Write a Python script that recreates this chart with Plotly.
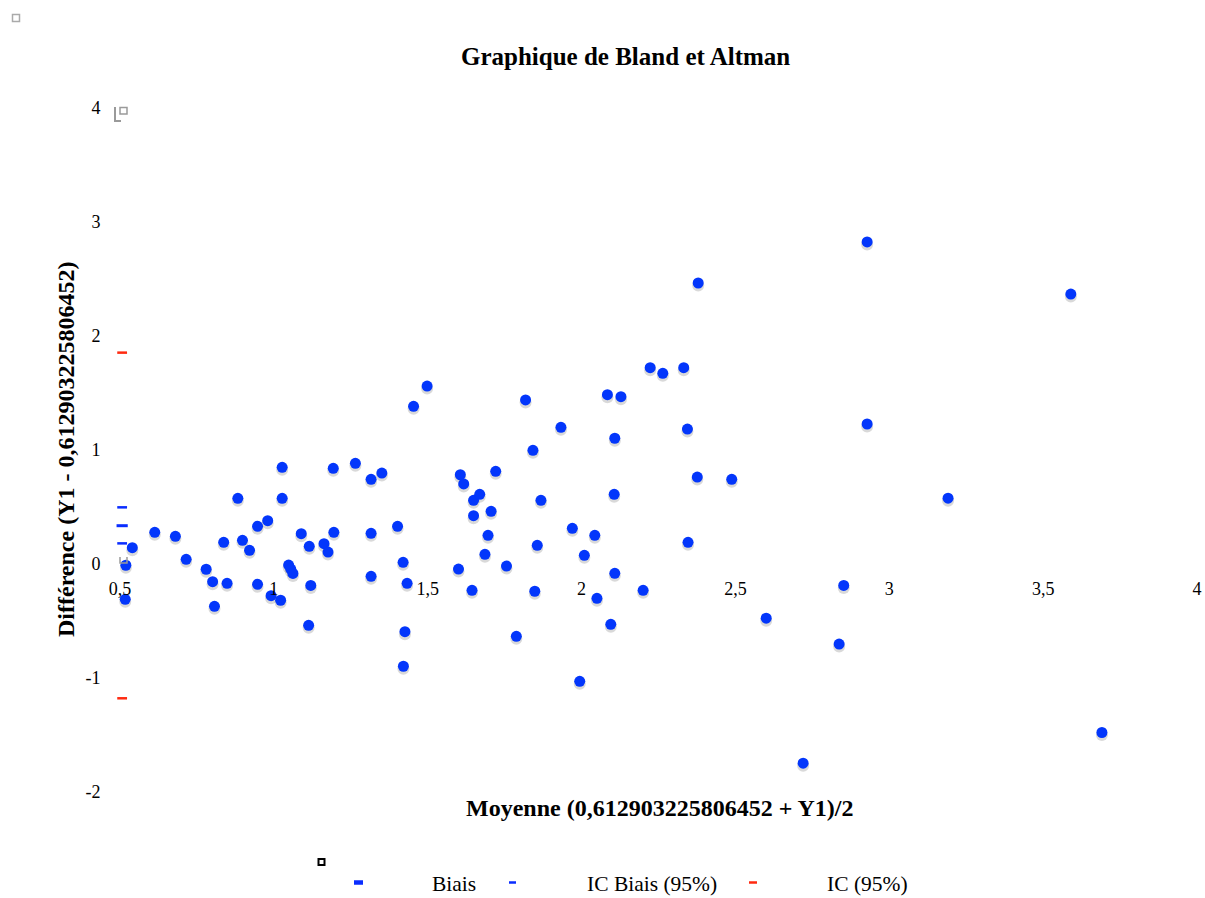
import plotly.graph_objects as go

# ---------------- data ----------------
moyenne = [0.498, 0.540, 0.519, 0.517, 0.613, 0.680, 0.715, 0.780, 0.801, 0.807,
           0.837, 0.848, 0.883, 0.898, 0.921, 0.947, 0.947, 0.980, 0.991, 1.022,
           1.027, 1.027, 1.048, 1.055, 1.062, 1.089, 1.115, 1.113, 1.120, 1.163,
           1.176, 1.195, 1.193, 1.265, 1.316, 1.316, 1.316, 1.351, 1.402, 1.420,
           1.433, 1.426, 1.421, 1.454, 1.498, 1.600, 1.606, 1.617, 1.649, 1.649,
           1.644, 1.669, 1.686, 1.696, 1.706, 1.721, 1.756, 1.788, 1.818, 1.842,
           1.848, 1.856, 1.868, 1.933, 1.970, 1.994, 2.009, 2.043, 2.050, 2.084,
           2.095, 2.106, 2.108, 2.108, 2.128, 2.200, 2.223, 2.264, 2.332, 2.344,
           2.346, 2.379, 2.376, 2.488, 2.600, 2.720, 2.837, 2.852, 2.928, 2.928,
           3.191, 3.590, 3.691]
difference = [0.333, 0.143, -0.011, -0.310, 0.278, 0.243, 0.041, -0.046, -0.155, -0.371,
              0.190, -0.169, 0.576, 0.208, 0.120, 0.331, -0.178, 0.380, -0.278, -0.318,
              0.848, 0.576, -0.009, -0.044, -0.083, 0.266, 0.155, -0.538, -0.188, 0.178,
              0.105, 0.278, 0.839, 0.883, 0.743, 0.269, -0.108, 0.798, 0.331, 0.015,
              -0.169, -0.594, -0.897, 1.383, 1.561, -0.044, 0.783, 0.702, 0.559, 0.424,
              -0.231, 0.611, 0.085, 0.252, 0.462, 0.813, -0.018, -0.634, 1.439, 0.997,
              -0.239, 0.164, 0.559, 1.199, 0.313, -1.029, 0.076, 0.252, -0.301, 1.485,
              -0.529, 0.611, 1.103, -0.082, 1.468, -0.231, 1.722, 1.673, 1.722, 1.184,
              0.190, 2.465, 0.763, 0.743, -0.475, -1.747, -0.702, -0.188, 2.825, 1.228,
              0.577, 2.368, -1.478]

biais = [0.336]
ic_biais = [0.181, 0.497]
ic_95 = [-1.178, 1.854]
x_lignes = 0.507

x_ticks = [0.5, 1, 1.5, 2, 2.5, 3, 3.5, 4]
x_tick_labels = ["0,5", "1", "1,5", "2", "2,5", "3", "3,5", "4"]
y_ticks = [-2, -1, 0, 1, 2, 3, 4]
y_tick_labels = ["-2", "-1", "0", "1", "2", "3", "4"]

legende = ["Biais", "IC Biais (95%)", "IC (95%)"]

# ---------------- styles ----------------
BLEU = "#0336fb"
BLEU_TRAIT = "#0a2dff"
ROUGE = "#ff2a10"
GRIS = "#9a9a9a"
FONT = "Liberation Serif"

W, H = 1205, 898
L, R, T, B = 120, 8, 108, 106
Y_RANGE = [-2, 4]
SHADOW_SHIFT = 0.022  # visual drop of the soft shadow under each point


def fx(p):
    return (p - L) / (W - L - R)


def fy(p):
    return (H - B - p) / (H - T - B)


fig = go.Figure()

# soft shadow below the points: same data on the (hidden, slightly shifted) base y axis
fig.add_trace(go.Scatter(
    x=moyenne, y=difference, mode="markers", cliponaxis=False, showlegend=False,
    yaxis="y", hoverinfo="skip",
    marker=dict(size=12, color="rgba(0,0,0,0.15)", line=dict(width=0)),
))
# main points and the short bias / CI marks on the visible overlay y axis
fig.add_trace(go.Scatter(
    x=moyenne, y=difference, mode="markers", cliponaxis=False, showlegend=False,
    yaxis="y2",
    marker=dict(size=11, color=BLEU, line=dict(width=0)),
))
fig.add_trace(go.Scatter(
    x=[x_lignes] * len(biais), y=biais, mode="markers", cliponaxis=False, showlegend=False,
    yaxis="y2",
    marker=dict(symbol="line-ew", size=8, line=dict(width=3, color=BLEU_TRAIT)),
))
fig.add_trace(go.Scatter(
    x=[x_lignes] * len(ic_biais), y=ic_biais, mode="markers", cliponaxis=False, showlegend=False,
    yaxis="y2",
    marker=dict(symbol="line-ew", size=7, line=dict(width=2.5, color=BLEU_TRAIT)),
))
fig.add_trace(go.Scatter(
    x=[x_lignes] * len(ic_95), y=ic_95, mode="markers", cliponaxis=False, showlegend=False,
    yaxis="y2",
    marker=dict(symbol="line-ew", size=7, line=dict(width=2.5, color=ROUGE)),
))

shapes = []
# small grey artefacts near the y axis
shapes.append(dict(type="path", xref="paper", yref="paper",
                   path=f"M{fx(115)},{fy(107)} L{fx(115)},{fy(121)} L{fx(121)},{fy(121)}",
                   line=dict(color=GRIS, width=2)))
shapes.append(dict(type="rect", xref="paper", yref="paper",
                   x0=fx(120), x1=fx(127), y0=fy(107.5), y1=fy(114),
                   line=dict(color=GRIS, width=1.5), fillcolor="white"))
shapes.append(dict(type="path", xref="paper", yref="paper",
                   path=f"M{fx(120)},{fy(557)} L{fx(120)},{fy(563)} L{fx(127)},{fy(563)} L{fx(127)},{fy(557)}",
                   line=dict(color=GRIS, width=1.5)))
# grey square top-left
shapes.append(dict(type="rect", xref="paper", yref="paper",
                   x0=fx(12.5), x1=fx(19.5), y0=fy(14.5), y1=fy(21.5),
                   line=dict(color="#aaaaaa", width=1.5)))
# black square above legend
shapes.append(dict(type="rect", xref="paper", yref="paper",
                   x0=fx(318.5), x1=fx(324.5), y0=fy(859), y1=fy(865),
                   line=dict(color="black", width=2)))
# legend symbols
shapes.append(dict(type="line", xref="paper", yref="paper",
                   x0=fx(354), x1=fx(363), y0=fy(882.5), y1=fy(882.5),
                   line=dict(color=BLEU_TRAIT, width=4.5)))
shapes.append(dict(type="line", xref="paper", yref="paper",
                   x0=fx(509), x1=fx(516), y0=fy(882.5), y1=fy(882.5),
                   line=dict(color=BLEU_TRAIT, width=2.5)))
shapes.append(dict(type="line", xref="paper", yref="paper",
                   x0=fx(749), x1=fx(757), y0=fy(882.5), y1=fy(882.5),
                   line=dict(color=ROUGE, width=2.5)))

annotations = [
    dict(text="<b>Graphique de Bland et Altman</b>", xref="paper", yref="paper",
         x=fx(625), y=fy(56), xanchor="center", yanchor="middle", showarrow=False,
         font=dict(family=FONT, size=25, color="black")),
    dict(text="<b>Moyenne (0,612903225806452 + Y1)/2</b>", xref="paper", yref="paper",
         x=fx(659), y=fy(808), xanchor="center", yanchor="middle", showarrow=False,
         font=dict(family=FONT, size=24, color="black")),
    dict(text="<b>Différence (Y1 - 0,612903225806452)</b>", xref="paper", yref="paper",
         x=fx(66), y=fy(450), xanchor="center", yanchor="middle", showarrow=False,
         textangle=-90, font=dict(family=FONT, size=24, color="black")),
]
for txt, left in zip(legende, [430, 585, 825]):
    annotations.append(dict(text=txt, xref="paper", yref="paper", x=fx(left), y=fy(884),
                            xanchor="left", yanchor="middle", showarrow=False,
                            font=dict(family=FONT, size=21.5, color="black")))

fig.update_layout(
    width=W, height=H,
    margin=dict(l=L, r=R, t=T, b=B, autoexpand=False),
    paper_bgcolor="white", plot_bgcolor="white",
    showlegend=False,
    font=dict(family=FONT, color="black"),
    shapes=shapes, annotations=annotations,
    xaxis=dict(range=[0.5, 4], anchor="free", position=(H - B - 564) / (H - T - B),
               tickvals=x_ticks, ticktext=x_tick_labels, ticks="outside", ticklen=8,
               tickcolor="rgba(0,0,0,0)", showgrid=False, zeroline=False, showline=False,
               tickfont=dict(family=FONT, size=18, color="black")),
    yaxis=dict(range=[Y_RANGE[0] + SHADOW_SHIFT, Y_RANGE[1] + SHADOW_SHIFT],
               showticklabels=False, ticks="", showgrid=False, zeroline=False,
               showline=False),
    yaxis2=dict(range=Y_RANGE, overlaying="y", anchor="x", side="left",
                tickvals=y_ticks, ticktext=y_tick_labels,
                ticks="outside", ticklen=15, tickcolor="rgba(0,0,0,0)",
                showgrid=False, zeroline=False, showline=False,
                tickfont=dict(family=FONT, size=18, color="black")),
)

fig.write_html(
    "out.html",
    config={"displayModeBar": False},
    post_script="document.body.style.margin='0px';document.body.style.overflow='hidden';",
)
